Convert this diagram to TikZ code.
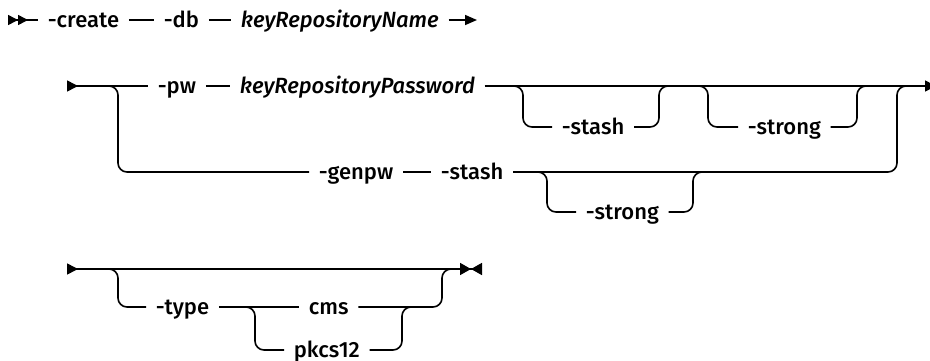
\documentclass[tikz,border=0pt]{standalone}
\usepackage{fontspec}
\setmainfont{Fira Sans}[UprightFont={* Medium}, ItalicFont={* Medium Italic}]
\usetikzlibrary{arrows.meta, positioning, calc}

\begin{document}
\begin{tikzpicture}[
        x=1pt, y=-1pt,
        line width=1.6pt,
        % Keywords and variables of the syntax
        kw/.style={
            anchor=west,
            inner xsep=9pt,
            inner ysep=0pt,
            text height=14pt,
            text depth=0pt,
            font=\fontsize{22}{24}\selectfont
        },
        var/.style={kw, font=\fontsize{22}{24}\selectfont\itshape},
        rail/.style={rounded corners=9pt},
        starttip/.style={{Triangle[reversed, length=11pt, width=11pt]}-}
    ]
    \useasboundingbox (0,0) rectangle (930,360);

    % Row 1
    \coordinate (r1s) at (8,20);
    \coordinate (r1e) at (477,20);
    \node (create) [kw] at (38,20) {-create};
    \node (db) [kw] at (154,20) {-db};
    \node (krname) [var] at (231,20) {keyRepositoryName};

    \draw [{Triangle[reversed, length=10pt, width=10pt] Triangle[reversed, length=10pt, width=10pt]}-] (r1s) -- (create);
    \draw (create) -- (db);
    \draw (db) -- (krname);
    \draw [-{Triangle[length=12pt, width=10pt]}] (krname) -- (r1e);

    % Row 2
    \coordinate (r2s) at (67,86);
    \coordinate (r2e) at (936,86);
    \node (pw) [kw] at (148,86) {-pw};
    \node (krpass) [var] at (230,86) {keyRepositoryPassword};
    \node (stashA) [kw] at (552,127) {-stash};
    \node (strongA) [kw] at (738,127) {-strong};
    \node (genpw) [kw] at (309,172) {-genpw};
    \node (stashB) [kw] at (431,172) {-stash};
    \node (strongB) [kw] at (576,212) {-strong};

    \draw [starttip] (r2s) -- (pw);
    \draw (pw) -- (krpass);
    \draw [-{Triangle[length=11pt, width=11pt]}] (krpass) -- (r2e);
    \draw [rail] (500,86) -| (523,127) -- (stashA);
    \draw [rail] (stashA) -| (659,86) -- (675,86);
    \draw [rail] (688,86) -| (708,127) -- (strongA);
    \draw [rail] (strongA) -| (857,86) -- (873,86);

    \draw [rail] (r2s) -| (118,172) -- (genpw);
    \draw (genpw) -- (stashB);
    \draw [rail] (stashB) -| (897,86) -- (912,86);
    \draw [rail] (528,172) -| (547,212) -- (strongB);
    \draw [rail] (strongB) -| (693,172) -- (710,172);

    % Row 3
    \coordinate (r3s) at (67,269);
    \coordinate (r3e) at (482,269);
    \node (type) [kw] at (146,307) {-type};
    \node (cms) [kw] at (299,307) {cms};
    \node (pkcs) [kw] at (284,350) {pkcs12};

    \draw [{Triangle[reversed, length=11pt, width=11pt]}-{Triangle[length=11pt, width=12pt] Triangle[reversed, length=11pt, width=12pt]}] (r3s) -- (r3e);
    \draw [rail] (r3s) -| (118,307) -- (type);
    \draw (type) -- (cms);
    \draw [rail] (cms) -| (442,269) -- (456,269);
    \draw [rail] (236,307) -| (255,350) -- (pkcs);
    \draw [rail] (pkcs) -| (402,307) -- (418,307);

\end{tikzpicture}
\end{document}
